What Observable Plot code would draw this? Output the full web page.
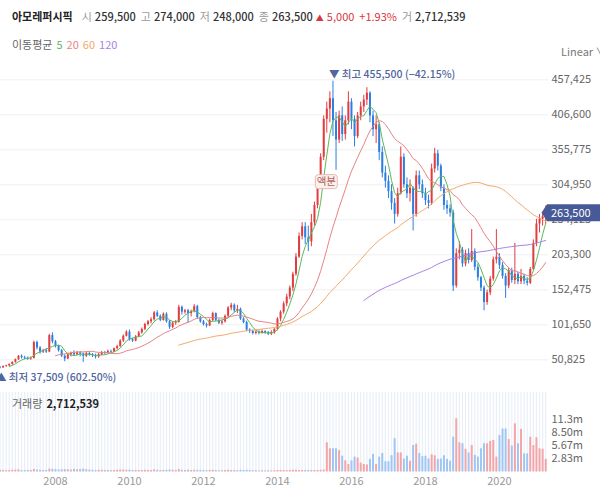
<!DOCTYPE html>
<html><head><meta charset="utf-8">
<script src="https://cdn.jsdelivr.net/npm/d3@7"></script>
<script src="https://cdn.jsdelivr.net/npm/@observablehq/plot@0.6"></script>
<style>
html,body{margin:0;padding:0;background:#fff}
body{width:600px;height:497px;overflow:hidden;position:relative;font-family:"Noto Sans CJK KR","Noto Sans",sans-serif;font-size:11px;color:#333}
.abs{position:absolute;white-space:nowrap}
.t{font-weight:bold;color:#222;margin-right:9px}
.l{color:#9a9a9a;margin-right:3px}
.v{color:#333;font-weight:500;margin-right:5px}
.r{color:#d9363b;margin-right:5px}
</style></head><body>
<div id="h1" class="abs" style="left:12px;top:8px;line-height:16px"></div>
<div id="h2" class="abs" style="left:12px;top:36px;line-height:16px"></div>
<div id="main" class="abs" style="left:0;top:50px"></div>
<div id="vol" class="abs" style="left:0;top:392px"></div>
<div id="h3" class="abs" style="left:12px;top:395px;line-height:16px"></div>
<div class="abs" style="left:561px;top:43px;line-height:16px;color:#777;width:39px;overflow:hidden">Linear ∨</div>
<script>
// ---- data (monthly, from 2006-06; prices in thousand won, volume in millions) ----
const stockName = "아모레퍼시픽";
const startMonth = "2006-06";
const open = [
  42,40,39,41,42,44,47,
  51,56,54,53,52,53,76,68,62,64,62,86,
  77,70,64,56,52,58,60,58,61,59,56,60,
  58,57,55,58,61,60,63,62,67,70,78,85,
  91,80,78,84,90,95,102,106,109,119,114,108,
  117,106,98,104,105,127,120,122,118,121,128,112,
  106,102,100,108,118,108,104,106,114,126,130,122,
  124,110,105,94,92,89,91,89,92,90,88,90,
  95,110,120,132,142,155,175,200,230,244,228,222,
  250,275,305,345,400,415,430,398,370,405,378,398,
  425,400,375,405,418,428,438,405,385,392,352,322,
  310,295,278,262,292,345,305,292,300,262,318,305,
  292,282,278,328,350,332,300,275,270,264,158,205,
  210,190,205,195,208,185,170,155,134,148,168,196,
  200,188,172,158,180,166,175,164,172,165,162,182,
  220,248,255,259.5];
const high = [
  43,41,42,43,45,48,52,
  57,58,56,55,55,78,78,70,66,67,88,90,
  79,72,66,58,60,62,64,63,63,61,62,62,
  60,59,60,63,63,65,65,68,72,80,87,93,
  94,82,86,92,97,104,108,112,121,122,116,119,
  119,108,106,108,130,129,124,124,123,131,130,114,
  108,104,110,120,119,110,108,116,128,133,132,130,
  126,112,107,96,94,93,93,94,93,92,93,96,
  112,122,135,146,158,178,205,235,250,250,245,262,
  280,310,350,405,425,440,455.5,410,412,418,405,440,
  430,405,410,425,435,446,440,412,405,395,360,332,
  318,305,285,300,360,350,315,312,302,325,325,312,
  300,290,335,358,355,335,305,282,276,268,212,222,
  214,210,212,240,212,190,172,158,152,172,200,240,
  205,192,176,184,184,220,178,182,175,170,185,225,
  255,262,265,274];
const low = [
  38,37.509,38.5,40,41,43,46,
  50,52,51,50,50,52,65,59,60,60,61,74,
  68,62,54,48,51,55,56,57,55,47,54,56,
  54,52,53,57,58,59,60,61,65,69,76,84,
  78,76,77,83,88,93,100,103,107,112,106,107,
  104,95,96,101,104,116,117,104,113,119,110,104,
  100,97,99,106,106,102,101,104,112,122,119,118,
  108,103,92,89,87,87,87,88,88,86,86,88,
  93,106,117,128,138,150,172,198,225,218,208,215,
  245,270,300,340,380,395,375,326,365,368,370,392,
  385,360,372,398,410,420,395,375,365,340,315,300,
  285,268,248,258,290,300,285,280,238,258,298,285,
  275,270,275,322,325,295,268,262,258,150,155,196,
  185,186,190,192,180,165,150,122,130,144,165,190,
  182,168,140,154,162,160,160,160,160,158,160,180,
  215,235,245,248];
const close = [
  40,39,41,42,44,47,51,
  56,54,53,52,53,76,68,62,64,62,86,77,
  70,64,56,52,58,60,58,61,59,56,60,58,
  57,55,58,61,60,63,62,67,70,78,85,91,
  80,78,84,90,95,102,106,109,119,114,108,117,
  106,98,104,105,127,120,122,118,121,128,112,106,
  102,100,108,118,108,104,106,114,126,130,122,124,
  110,105,94,92,89,91,89,92,90,88,90,95,
  110,120,132,142,155,175,200,230,244,228,222,250,
  275,305,345,400,415,430,398,370,405,378,398,425,
  400,375,405,418,428,438,405,385,392,352,322,310,
  295,278,262,292,345,305,292,300,262,318,305,292,
  282,278,328,350,332,300,275,270,264,158,205,210,
  190,205,195,208,185,170,155,134,148,168,196,200,
  188,172,158,180,166,175,164,172,165,162,182,220,
  248,255,258.5,263.5];
const volume = [
  0.3,0.35,0.3,0.25,0.3,0.35,0.4,
  0.45,0.3,0.25,0.3,0.3,0.55,0.4,0.35,0.3,0.3,0.6,0.55,
  0.5,0.4,0.45,0.5,0.45,0.4,0.55,0.45,0.5,0.6,0.45,0.4,
  0.35,0.3,0.35,0.35,0.3,0.3,0.25,0.3,0.35,0.4,0.4,0.35,
  0.4,0.3,0.3,0.3,0.3,0.35,0.3,0.3,0.45,0.35,0.3,0.3,
  0.35,0.4,0.35,0.3,0.5,0.35,0.3,0.4,0.3,0.35,0.35,0.3,
  0.3,0.25,0.3,0.35,0.3,0.25,0.25,0.3,0.35,0.3,0.3,0.25,
  0.35,0.3,0.35,0.3,0.25,0.25,0.2,0.25,0.2,0.25,0.2,0.25,
  0.3,0.3,0.3,0.25,0.3,0.35,0.35,0.3,0.3,0.3,0.3,0.3,
  0.3,0.3,0.35,0.4,6.3,5.0,5.0,5.0,4.6,3.4,2.4,1.6,
  2.4,3.2,3.0,1.9,1.6,1.5,2.7,3.8,1.6,3.2,4.0,2.2,
  2.2,3.5,7.2,4.1,4.1,2.8,3.4,2.3,5.7,6.0,4.0,3.3,
  3.4,2.8,3.7,3.5,2.7,2.8,3.5,2.7,2.3,7.5,11.5,6.3,
  6.1,4.9,4.1,5.7,3.6,3.2,5.0,6.1,6.1,6.6,6.8,3.2,
  7.9,9.3,9.3,7.0,5.6,10.4,6.1,9.2,3.9,3.9,7.5,5.7,
  7.4,5.0,4.9,2.712539];
const priceTicks = [50825,101650,152475,203300,254125,304950,355775,406600,457425];
const volumeTicks = [2.83e6,5.67e6,8.5e6,11.33e6];
const volumeTickLabels = ["2.83m","5.67m","8.50m","11.3m"];
const yearTickMonths = ["2008-01","2010-01","2012-01","2014-01","2016-01","2018-01","2020-01"];
const yearTickLabels = ["2008","2010","2012","2014","2016","2018","2020"];
const maPeriods = [5,20,60,120];
const maColors = ["#5cb85c","#e88383","#f2aa6b","#a782e6"];
const splitEvents = [{month:"2015-05", label:"액분"}];

// ---- build table ----
const RED = "#e23c3f", BLUE = "#2c7ee0", VRED = "#f2a5a8", VBLUE = "#9fc5f2";
const fmtM = d3.utcFormat("%Y-%m");
const months = d3.utcMonth.range(new Date(startMonth + "-01T00:00Z"), new Date(Date.UTC(2030,0,1))).slice(0, close.length).map(fmtM);
const rows = months.map((m, i) => ({idx: i, month: m,
  open: open[i]*1000, high: high[i]*1000, low: low[i]*1000, close: close[i]*1000, volume: volume[i]*1e6}));
const up = d => d.close >= d.open;
const last = rows[rows.length-1], prev = rows[rows.length-2];
const maxRow = d3.greatest(rows, d => d.high), minRow = d3.least(rows, d => d.low);
const fmt = d3.format(",");
const fmtP = d3.format(".2f");
const idxOf = m => months.indexOf(m);
const yearIdx = yearTickMonths.map(idxOf);
const yearLabel = new Map(yearIdx.map((k, j) => [k, yearTickLabels[j]]));
const volLabel = new Map(volumeTicks.map((v, j) => [v, volumeTickLabels[j]]));

const xScale = {domain: [0, rows.length - 1], range: [-3.6, 545.2]};
const font = "'Noto Sans CJK KR','Noto Sans',sans-serif";

// ---- header ----
const chg = last.close - prev.close, pct = chg / prev.close * 100;
document.getElementById("h1").innerHTML =
  `<span class="t">${stockName}</span>` +
  `<span class="l">시</span><span class="v">${fmt(last.open)}</span>` +
  `<span class="l">고</span><span class="v">${fmt(last.high)}</span>` +
  `<span class="l">저</span><span class="v">${fmt(last.low)}</span>` +
  `<span class="l">종</span><span class="v" style="margin-right:3px">${fmt(last.close)}</span>` +
  `<span class="r" style="font-size:8px;margin-right:3px">▲</span><span class="r">${fmt(chg)}</span><span class="r">+${fmtP(pct)}%</span>` +
  `<span class="l">거</span><span class="v">${fmt(last.volume)}</span>`;
document.getElementById("h2").innerHTML =
  `<span style="color:#666;margin-right:4px">이동평균</span>` +
  maPeriods.map((p, j) => `<span style="color:${maColors[j]};margin-right:4px">${p}</span>`).join("");
document.getElementById("h3").innerHTML =
  `<span style="color:#666;margin-right:4px">거래량</span><span style="font-weight:bold;color:#222">${fmt(last.volume)}</span>`;

// ---- main price chart ----
const main = Plot.plot({
  width: 600, height: 342, marginLeft: 0, marginRight: 52, marginTop: 0, marginBottom: 0,
  style: {fontFamily: font, fontSize: "11px", color: "#666", background: "transparent"},
  x: {...xScale, axis: null},
  y: {domain: [0, 500000], range: [344.3, 0], axis: null},
  marks: [
    Plot.ruleY(priceTicks, {stroke: "#efefef", strokeWidth: 1}),
    Plot.ruleX(rows, {x: "idx", y1: "low", y2: "high", stroke: d => up(d) ? RED : BLUE, strokeWidth: 1, clip: true}),
    Plot.ruleX(rows, {x: "idx", y1: "open", y2: "close", stroke: d => up(d) ? RED : BLUE, strokeWidth: 2, clip: true}),
    ...maPeriods.map((p, j) => Plot.lineY(rows, Plot.windowY({k: p, anchor: "end", strict: true},
      {x: "idx", y: "close", stroke: maColors[j], strokeWidth: 1, clip: true}))),
    Plot.axisY(priceTicks, {anchor: "right", label: null, tickSize: 0, tickPadding: 3, tickFormat: fmt, fontSize: 11}),
    Plot.text([maxRow], {x: "idx", y: "high", dx: -4, dy: -7, textAnchor: "start", fontSize: 10.5, fill: "#52659d", fontWeight: 500,
      text: d => `▼ 최고 ${fmt(d.high)} (${fmtP((last.close / d.high - 1) * 100)}%)`}),
    Plot.text([minRow], {x: "idx", y: "low", dx: -4, dy: 9, textAnchor: "start", fontSize: 10.5, fill: "#52659d", fontWeight: 500,
      text: d => `▲ 최저 ${fmt(d.low)} (${fmtP((last.close / d.low - 1) * 100)}%)`})
  ]
});
document.getElementById("main").appendChild(main);
{
  const sx = main.scale("x"), sy = main.scale("y");
  const svg = d3.select(main);
  // split badge
  splitEvents.forEach(e => {
    const r = rows[idxOf(e.month)];
    const cx = sx.apply(r.idx), cy = sy.apply(r.low) + 49;
    const g = svg.append("g");
    g.append("rect").attr("x", cx - 11).attr("y", cy - 7).attr("width", 22).attr("height", 14).attr("rx", 3)
      .attr("fill", "#fdf1ef").attr("stroke", "#eab7b1");
    g.append("text").attr("x", cx).attr("y", cy).attr("dy", "0.35em").attr("text-anchor", "middle")
      .attr("font-size", 10.5).attr("fill", "#b1605a").attr("font-family", font).text(e.label);
  });
  // current price label
  const yy = sy.apply(last.close);
  svg.append("path").attr("d", `M541.5,${yy}L547,${yy - 8.5}H600V${yy + 8.5}H547Z`).attr("fill", "#475a97");
  svg.append("text").attr("x", 551).attr("y", yy).attr("dy", "0.35em").attr("text-anchor", "start").attr("fill", "#fff")
    .attr("font-size", 11).attr("font-family", font).text(fmt(last.close));
}

// ---- volume chart ----
const vol = Plot.plot({
  width: 600, height: 105, marginLeft: 0, marginRight: 52, marginTop: 0, marginBottom: 25,
  style: {fontFamily: font, fontSize: "11px", color: "#666", background: "transparent"},
  x: {...xScale, axis: null},
  y: {domain: [0, 17.19e6], range: [79.4, 0], axis: null},
  marks: [
    Plot.ruleX(rows, {x: "idx", stroke: "#e9eef7", strokeWidth: 1.2, clip: true}),
    Plot.ruleX(rows, {x: "idx", y1: 0, y2: "volume", stroke: d => up(d) ? VRED : VBLUE, strokeWidth: 2, clip: true}),
    Plot.axisY(volumeTicks, {anchor: "right", label: null, tickSize: 0, tickPadding: 3, tickFormat: d => volLabel.get(d), fontSize: 11}),
    Plot.axisX(yearIdx, {anchor: "bottom", label: null, tickSize: 0, tickPadding: 5, tickFormat: d => yearLabel.get(d), fontSize: 11, color: "#999"})
  ]
});
document.getElementById("vol").appendChild(vol);
</script>
</body></html>
